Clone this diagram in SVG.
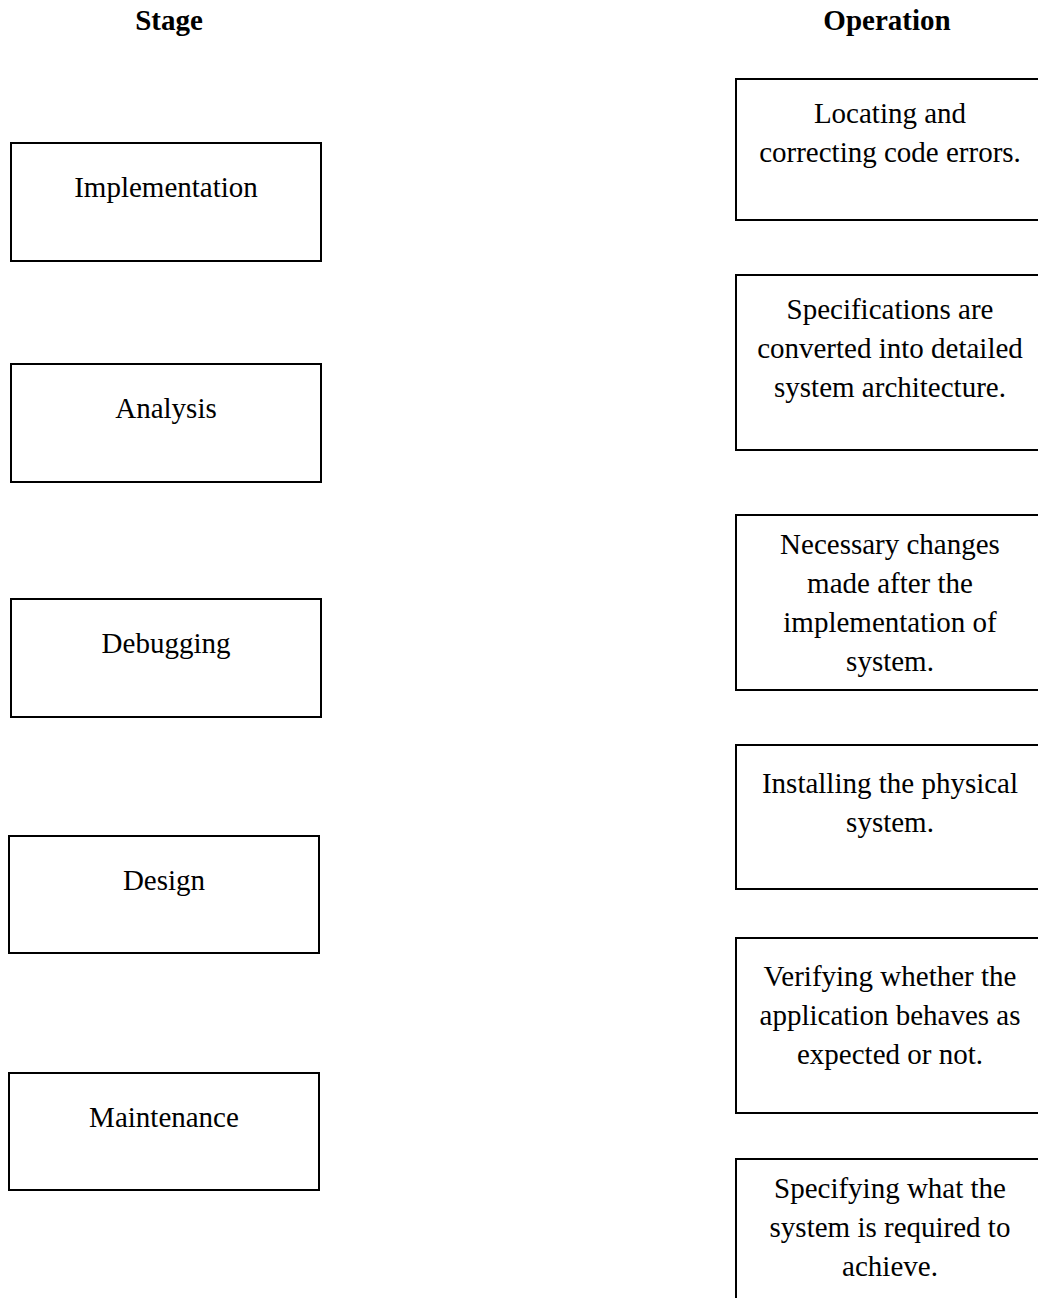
<svg xmlns="http://www.w3.org/2000/svg" width="1038" height="1298" viewBox="0 0 1038 1298">
  <style>
    .box { fill: #ffffff; stroke: #000000; stroke-width: 2; }
    .lbl { font-family: "Liberation Serif", "Times New Roman", serif; font-size: 29px; fill: #000000; text-anchor: middle; }
    .head { font-family: "Liberation Serif", "Times New Roman", serif; font-size: 29px; font-weight: bold; fill: #000000; text-anchor: middle; }
  </style>
  <rect width="1038" height="1298" fill="#ffffff"/>

  <!-- column headings -->
  <text class="head" x="169" y="30">Stage</text>
  <text class="head" x="887" y="30">Operation</text>

  <!-- stage column -->
  <g id="stage-implementation">
    <rect class="box" x="11" y="143" width="310" height="118"/>
    <text class="lbl" x="166" y="197">Implementation</text>
  </g>
  <g id="stage-analysis">
    <rect class="box" x="11" y="364" width="310" height="118"/>
    <text class="lbl" x="166" y="418">Analysis</text>
  </g>
  <g id="stage-debugging">
    <rect class="box" x="11" y="599" width="310" height="118"/>
    <text class="lbl" x="166" y="653">Debugging</text>
  </g>
  <g id="stage-design">
    <rect class="box" x="9" y="836" width="310" height="117"/>
    <text class="lbl" x="164" y="890">Design</text>
  </g>
  <g id="stage-maintenance">
    <rect class="box" x="9" y="1073" width="310" height="117"/>
    <text class="lbl" x="164" y="1127">Maintenance</text>
  </g>

  <!-- operation column -->
  <g id="op-locating">
    <rect class="box" x="736" y="79" width="330" height="141"/>
    <text class="lbl" x="890" y="123">Locating and</text>
    <text class="lbl" x="890" y="162">correcting code errors.</text>
  </g>
  <g id="op-specifications">
    <rect class="box" x="736" y="275" width="330" height="175"/>
    <text class="lbl" x="890" y="319">Specifications are</text>
    <text class="lbl" x="890" y="358">converted into detailed</text>
    <text class="lbl" x="890" y="397">system architecture.</text>
  </g>
  <g id="op-changes">
    <rect class="box" x="736" y="515" width="330" height="175"/>
    <text class="lbl" x="890" y="554">Necessary changes</text>
    <text class="lbl" x="890" y="593">made after the</text>
    <text class="lbl" x="890" y="632">implementation of</text>
    <text class="lbl" x="890" y="671">system.</text>
  </g>
  <g id="op-installing">
    <rect class="box" x="736" y="745" width="330" height="144"/>
    <text class="lbl" x="890" y="793">Installing the physical</text>
    <text class="lbl" x="890" y="832">system.</text>
  </g>
  <g id="op-verifying">
    <rect class="box" x="736" y="938" width="330" height="175"/>
    <text class="lbl" x="890" y="986">Verifying whether the</text>
    <text class="lbl" x="890" y="1025">application behaves as</text>
    <text class="lbl" x="890" y="1064">expected or not.</text>
  </g>
  <g id="op-specifying">
    <rect class="box" x="736" y="1159" width="330" height="160"/>
    <text class="lbl" x="890" y="1198">Specifying what the</text>
    <text class="lbl" x="890" y="1237">system is required to</text>
    <text class="lbl" x="890" y="1276">achieve.</text>
  </g>

  <!-- stages and operations are matched by the reader; no connectors are drawn -->
  <g id="connectors"></g>
</svg>
